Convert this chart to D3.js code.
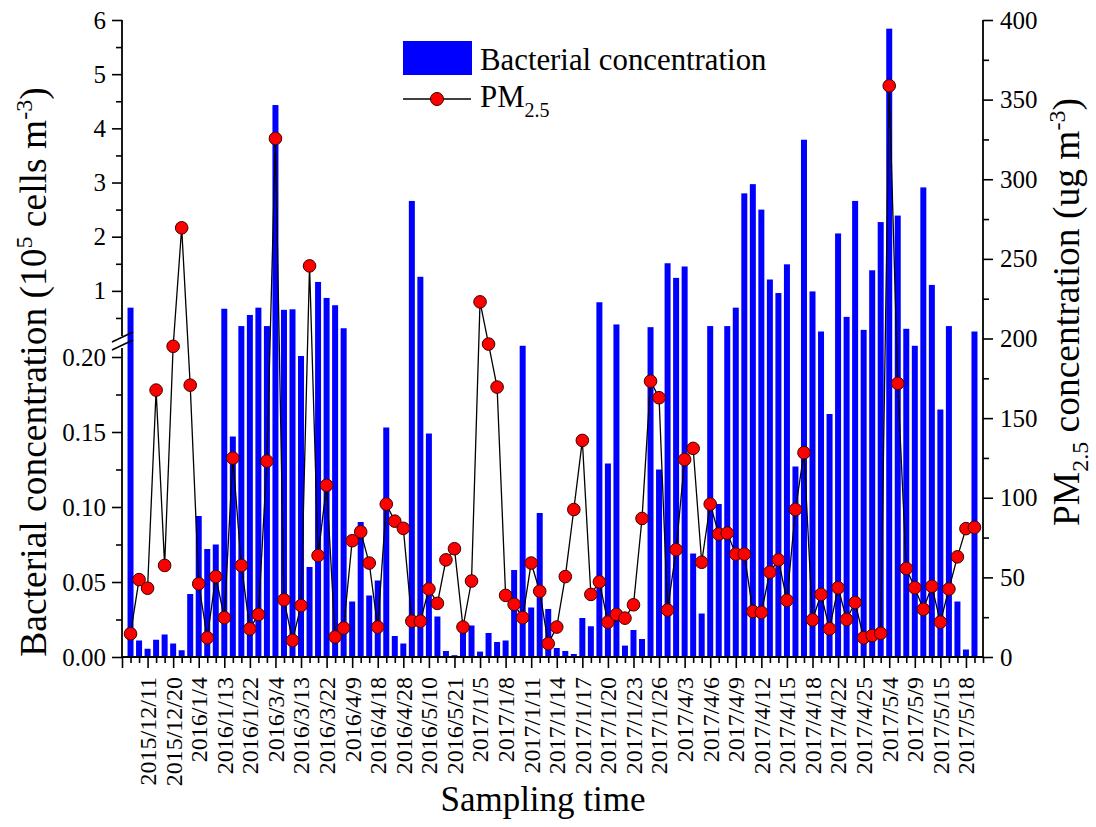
<!DOCTYPE html>
<html><head><meta charset="utf-8">
<script src="https://cdn.jsdelivr.net/npm/d3@7"></script>
<style>
body{margin:0;background:#fff}
svg{display:block;background:#fff}
text{font-family:"Times New Roman","Liberation Serif",serif;fill:#000}
</style>
</head><body>
<svg id="chart" width="1096" height="827"></svg>
<script>
// Labels shown on every third sample, starting with the third one
const tickLabels = ["2015/12/11","2015/12/20","2016/1/4","2016/1/13","2016/1/22","2016/3/4","2016/3/13","2016/3/22","2016/4/9","2016/4/18","2016/4/28","2016/5/10","2016/5/21","2017/1/5","2017/1/8","2017/1/11","2017/1/14","2017/1/17","2017/1/20","2017/1/23","2017/1/26","2017/4/3","2017/4/6","2017/4/9","2017/4/12","2017/4/15","2017/4/18","2017/4/22","2017/4/25","2017/5/4","2017/5/9","2017/5/15","2017/5/18"];

// Bacterial concentration (10^5 cells m^-3), one per sample
const bacteria = [0.69,0.011,0.0055,0.0115,0.015,0.009,0.0045,0.042,0.094,0.072,
0.075,0.67,0.147,0.35,0.555,0.69,0.35,4.43,0.65,0.66,
0.202,0.060,1.165,0.87,0.735,0.31,0.037,0.090,0.041,0.051,
0.153,0.014,0.009,2.66,1.26,0.149,0.027,0.004,0.0012,0.019,
0.021,0.0036,0.016,0.010,0.011,0.058,0.222,0.033,0.096,0.032,
0.006,0.004,0.002,0.026,0.0205,0.79,0.129,0.38,0.0076,0.018,
0.012,0.33,0.125,1.51,1.24,1.45,0.069,0.029,0.35,0.102,
0.35,0.69,2.80,2.97,2.50,1.21,0.96,1.49,0.127,3.79,
0.99,0.25,0.162,2.06,0.52,2.66,0.28,1.38,2.27,5.84,
2.39,0.30,0.222,2.91,1.11,0.165,0.35,0.037,0.005,0.25];

// PM2.5 concentration (ug m^-3), one per sample
const pm25 = [14.6,48.6,43.2,167.6,57.5,195.1,269.5,170.7,46,12.1,
50.5,24.7,124.9,57.5,17.7,26.7,123,325.6,35.9,10.4,
32.3,245.6,63.7,107.8,12.6,18.2,73,78.6,59,18.8,
96,85.3,80.8,22.5,22.5,42.7,33.7,61,68,18.8,
47.7,223,196.5,169.5,38.7,33.1,24.7,59,41.3,8.4,
18.8,50.5,92.6,136,39.3,47.2,21.9,26.7,24.4,32.8,
87,173.2,162.8,29.5,67.4,124,131,59.5,96,77.2,
77.8,64.6,64.6,28.6,28,53.3,61,35.6,92.6,128.3,
23.3,39.3,17.7,43.5,23.6,34.2,12.1,13.5,14.9,358.7,
171.8,55.6,43.5,30,44.4,21.9,42.7,62.9,80.6,81.4];

const leftMajorTicks = [0,0.05,0.10,0.15,0.20,1,2,3,4,5,6];
const leftMinorTicks = [0.025,0.075,0.125,0.175,0.5,1.5,2.5,3.5,4.5,5.5];
const rightMajorTicks = [0,50,100,150,200,250,300,350,400];
const rightMinorTicks = [25,75,125,175,225,275,325,375];

const svg = d3.select("#chart");
const X0 = 122, X1 = 983, Y0 = 657, YT = 20;

const n = bacteria.length;
const x = d3.scaleLinear().domain([-1, n]).range([X0, X1]);
// broken left axis: 0-0.2 lower segment, break, 0.25-6 upper segment
const yLeft = d3.scaleLinear().domain([0, 0.2, 0.25, 6]).range([Y0, 357, 331.5, YT]);
const yRight = d3.scaleLinear().domain([0, 400]).range([Y0, YT]);

const barW = 6;
svg.append("g").selectAll("rect").data(bacteria).join("rect")
  .attr("x", (d,i) => x(i) - barW/2)
  .attr("y", d => yLeft(d))
  .attr("width", barW)
  .attr("height", d => Y0 - yLeft(d))
  .attr("fill", "#0000ff");

// PM2.5 line + markers
const line = d3.line().x((d,i) => x(i)).y(d => yRight(d));
svg.append("path").datum(pm25).attr("d", line)
  .attr("fill","none").attr("stroke","#000").attr("stroke-width",1.3);
svg.append("g").selectAll("circle").data(pm25).join("circle")
  .attr("cx", (d,i) => x(i)).attr("cy", d => yRight(d)).attr("r", 6.3)
  .attr("fill","#ff0000").attr("stroke","#3a0000").attr("stroke-width",1);

function styleAxis(g){
  g.selectAll(".tick line").attr("stroke","#000").attr("stroke-width",1.6);
  g.selectAll("path.domain").remove();
}

// Left axis
const gL = svg.append("g").attr("transform", `translate(${X0},0)`);
gL.call(d3.axisLeft(yLeft).tickValues(leftMajorTicks).tickSize(10).tickPadding(6)
  .tickFormat(d => d <= 0.2 ? d3.format(".2f")(d) : d3.format("d")(d)));
gL.call(styleAxis);
gL.selectAll(".tick text").attr("font-size", 25).attr("font-family",'"Times New Roman","Liberation Serif",serif');
const gLm = svg.append("g").attr("transform", `translate(${X0},0)`);
gLm.call(d3.axisLeft(yLeft).tickValues(leftMinorTicks).tickSize(6).tickFormat(""));
gLm.call(styleAxis);
svg.append("line").attr("x1",X0).attr("x2",X0).attr("y1",Y0+1).attr("y2",348).attr("stroke","#000").attr("stroke-width",1.8);
svg.append("line").attr("x1",X0).attr("x2",X0).attr("y1",336).attr("y2",YT).attr("stroke","#000").attr("stroke-width",1.8);
// break marks
[0, 8].forEach(o => {
  svg.append("line").attr("x1",X0-10).attr("y1",350-o).attr("x2",X0+11).attr("y2",340-o)
    .attr("stroke","#000").attr("stroke-width",1.6);
});

// Right axis
const gR = svg.append("g").attr("transform", `translate(${X1},0)`);
gR.call(d3.axisRight(yRight).tickValues(rightMajorTicks).tickSize(10).tickPadding(7).tickFormat(d3.format("d")));
gR.call(styleAxis);
gR.selectAll(".tick text").attr("font-size", 25).attr("font-family",'"Times New Roman","Liberation Serif",serif');
const gRm = svg.append("g").attr("transform", `translate(${X1},0)`);
gRm.call(d3.axisRight(yRight).tickValues(rightMinorTicks).tickSize(6).tickFormat(""));
gRm.call(styleAxis);
svg.append("line").attr("x1",X1).attr("x2",X1).attr("y1",Y0+1).attr("y2",YT).attr("stroke","#000").attr("stroke-width",1.8);

// Bottom axis
const labelIdx = tickLabels.map((d,k) => 2 + 3*k);
const majorIdx = [-1, ...labelIdx];
const minorIdx = d3.range(-1, n + 1).filter(i => !majorIdx.includes(i));
const gB = svg.append("g").attr("transform", `translate(0,${Y0})`);
gB.call(d3.axisBottom(x).tickValues(majorIdx).tickSize(11).tickFormat(""));
gB.call(styleAxis);
const gBm = svg.append("g").attr("transform", `translate(0,${Y0})`);
gBm.call(d3.axisBottom(x).tickValues(minorIdx).tickSize(6).tickFormat(""));
gBm.call(styleAxis);
svg.append("line").attr("x1",X0).attr("x2",X1).attr("y1",Y0).attr("y2",Y0).attr("stroke","#000").attr("stroke-width",1.8);
svg.append("g").selectAll("text").data(tickLabels).join("text")
  .attr("transform", (d,k) => `translate(${x(labelIdx[k])},677) rotate(-90)`)
  .attr("text-anchor","end").attr("dy","0.35em").attr("font-size",24)
  .text(d => d);

// Axis titles
svg.append("text").attr("x", 543).attr("y", 811).attr("text-anchor","middle")
  .attr("font-size",35).text("Sampling time");

const tl = svg.append("text").attr("transform","translate(46,372) rotate(-90)")
  .attr("text-anchor","middle").attr("font-size",37.5);
tl.append("tspan").text("Bacterial concentration (10");
tl.append("tspan").attr("dy",-14).attr("font-size",24).text("5");
tl.append("tspan").attr("dy",14).text(" cells m");
tl.append("tspan").attr("dy",-14).attr("font-size",24).text("-3");
tl.append("tspan").attr("dy",14).text(")");

const tr = svg.append("text").attr("transform","translate(1079,312) rotate(-90)")
  .attr("text-anchor","middle").attr("font-size",37.5);
tr.append("tspan").text("PM");
tr.append("tspan").attr("dy",9).attr("font-size",24).text("2.5");
tr.append("tspan").attr("dy",-9).text(" concentration (ug m");
tr.append("tspan").attr("dy",-14).attr("font-size",24).text("-3");
tr.append("tspan").attr("dy",14).text(")");

// Legend
const lg = svg.append("g");
lg.append("rect").attr("x",403).attr("y",41).attr("width",69).attr("height",34).attr("fill","#0000ff");
lg.append("text").attr("x",480).attr("y",70).attr("font-size",30.8).text("Bacterial concentration");
lg.append("line").attr("x1",403).attr("x2",471).attr("y1",99).attr("y2",99).attr("stroke","#000").attr("stroke-width",1.3);
lg.append("circle").attr("cx",437).attr("cy",99).attr("r",6.5).attr("fill","#ff0000").attr("stroke","#3a0000").attr("stroke-width",1);
const lt = lg.append("text").attr("x",480).attr("y",107).attr("font-size",30.8);
lt.append("tspan").text("PM");
lt.append("tspan").attr("dy",10).attr("font-size",20).text("2.5");
</script>
</body></html>
